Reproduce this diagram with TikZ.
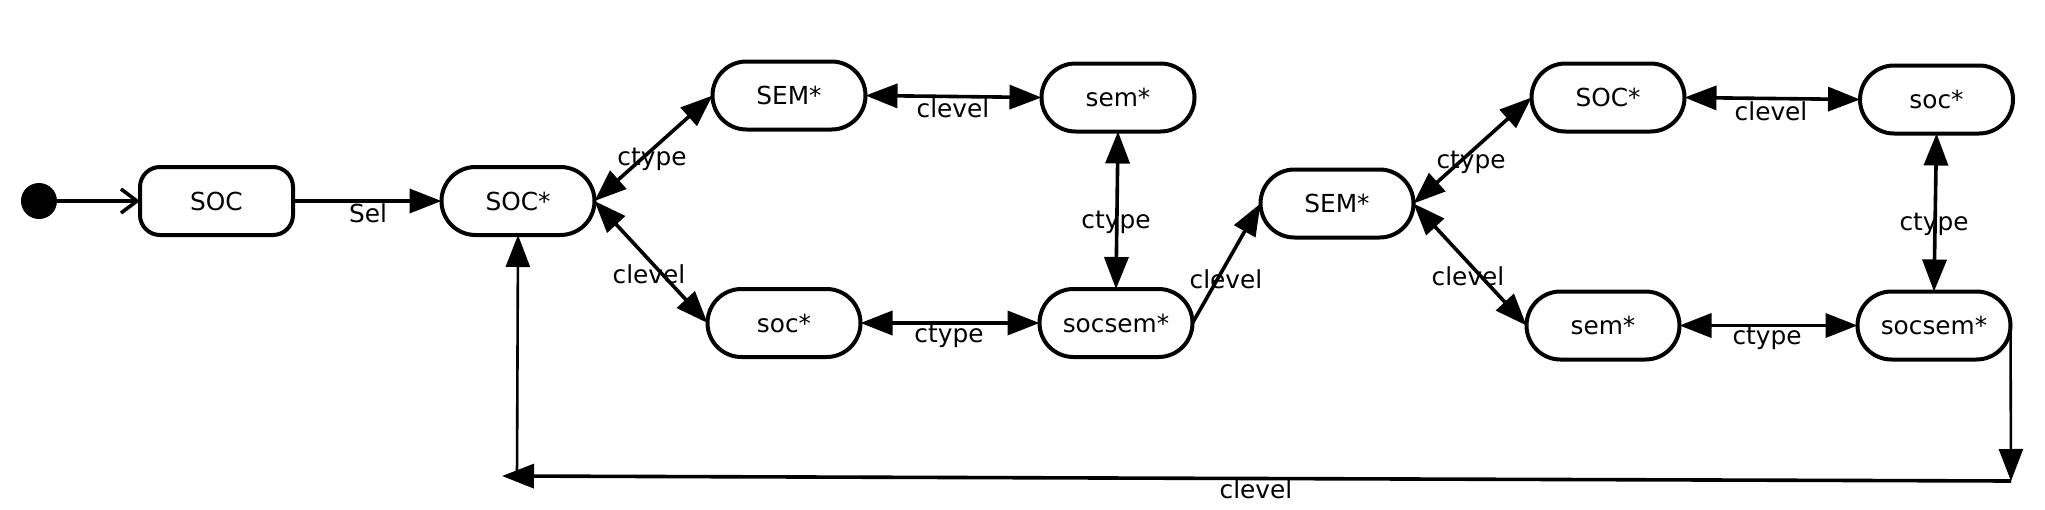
\documentclass[tikz,border=0pt]{standalone}
\usepackage{fontspec}
\setmainfont{DejaVu Sans}
\usetikzlibrary{arrows.meta}
\begin{document}
\begin{tikzpicture}[x=0.5pt,y=-0.5pt,
  stbox/.style={draw, line width=2pt, rounded corners=17pt, minimum width=76.5pt, minimum height=34pt, inner sep=0pt, outer sep=0pt, font=\fontsize{12.4}{14}\selectfont},
  firstbox/.style={stbox, rounded corners=10pt},
  lbl/.style={font=\fontsize{12.4}{14}\selectfont, inner sep=0pt},
  edge/.style={line width=1.8pt},
  tip/.tip={Triangle[length=16pt,width=12pt]},
  both/.style={edge, tip-tip},
  one/.style={edge, -tip}]
\fill[white] (0,0) rectangle (2045,509);
\useasboundingbox (0,0) rectangle (2045,509);

\node[circle, fill, minimum size=18pt, inner sep=0pt, outer sep=0pt] (init) at (39,201) {};
\node[firstbox] (soc0) at (216.5,201) {SOC};
\node[stbox] (socA) at (518,201) {SOC*};
\node[stbox] (semA) at (789,95.5) {SEM*};
\node[stbox] (semlA) at (1118,97.5) {sem*};
\node[stbox] (soclA) at (784,323) {soc*};
\node[stbox] (ssA) at (1116,323) {socsem*};
\node[stbox] (semB) at (1337,203.5) {SEM*};
\node[stbox] (socB) at (1608,97.5) {SOC*};
\node[stbox] (soclB) at (1936.5,99.5) {soc*};
\node[stbox] (semlB) at (1603,325.5) {sem*};
\node[stbox] (ssB) at (1934,325.5) {socsem*};

\coordinate (c1) at (2011,481);
\coordinate (c2) at (502,476);
\coordinate (c3) at (517,476);

\draw[edge, -{Straight Barb[length=8pt,width=12pt]}] (init) -- (soc0.west);
\draw[one] (soc0.east) -- (socA.west);
\draw[both] (socA.east) -- (semA.west);
\draw[both] (socA.east) -- (soclA.west);
\draw[both] (semA.east) -- (semlA.west);
\draw[both] (semlA.south) -- (ssA.north);
\draw[both] (soclA.east) -- (ssA.west);
\draw[one] (ssA.east) -- (semB.west);
\draw[both] (semB.east) -- (socB.west);
\draw[both] (semB.east) -- (semlB.west);
\draw[both] (socB.east) -- (soclB.west);
\draw[both] (soclB.south) -- (ssB.north);
\draw[both] (semlB.east) -- (ssB.west);
\draw[one, line width=1.3pt] (ssB.east) -- (c1);
\draw[one] (c1) -- (c2);
\draw[one, line width=1.3pt] (c3) -- (socA.south);

\node[lbl] (l1) at (368,213) {Sel};
\node[lbl] (l2) at (652,159) {ctype};
\node[lbl] (l3) at (649,274) {clevel};
\node[lbl] (l4) at (953,108) {clevel};
\node[lbl] (l5) at (949,336) {ctype};
\node[lbl] (l6) at (1116,222) {ctype};
\node[lbl] (l7) at (1226,279) {clevel};
\node[lbl] (l8) at (1471,162) {ctype};
\node[lbl] (l9) at (1468,276) {clevel};
\node[lbl] (l10) at (1771,111) {clevel};
\node[lbl] (l11) at (1934,224) {ctype};
\node[lbl] (l12) at (1767,338) {ctype};
\node[lbl] (l13) at (1256,489) {clevel};
\end{tikzpicture}
\end{document}
